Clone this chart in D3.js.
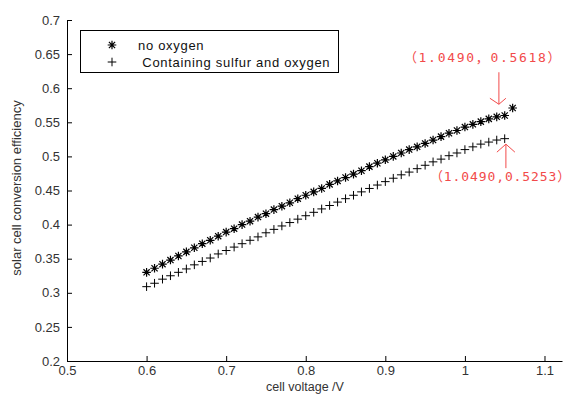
<!DOCTYPE html>
<html>
<head>
<meta charset="utf-8">
<script src="https://cdn.jsdelivr.net/npm/d3@7"></script>
<style>
  body { margin: 0; background: #fff; }
  svg { display: block; }
  .tick text { font-family: "Liberation Sans", Arial, sans-serif; font-size: 13px; fill: #333; }
</style>
</head>
<body>
<svg id="chart" width="574" height="394"></svg>
<script>
// cell voltage (V) and efficiencies
const voltageNoOxygen = [0.60, 0.61, 0.62, 0.63, 0.64, 0.65, 0.66, 0.67, 0.68, 0.69,
  0.70, 0.71, 0.72, 0.73, 0.74, 0.75, 0.76, 0.77, 0.78, 0.79,
  0.80, 0.81, 0.82, 0.83, 0.84, 0.85, 0.86, 0.87, 0.88, 0.89,
  0.90, 0.91, 0.92, 0.93, 0.94, 0.95, 0.96, 0.97, 0.98, 0.99,
  1.00, 1.01, 1.02, 1.03, 1.04, 1.05, 1.06];
const noOxygen = [0.330, 0.336, 0.342, 0.348, 0.354, 0.360, 0.366, 0.372, 0.377, 0.383,
  0.389, 0.394, 0.400, 0.405, 0.411, 0.416, 0.422, 0.427, 0.432, 0.438,
  0.443, 0.448, 0.453, 0.459, 0.464, 0.469, 0.474, 0.479, 0.485, 0.490,
  0.495, 0.500, 0.505, 0.510, 0.514, 0.519, 0.524, 0.529, 0.534, 0.538,
  0.543, 0.547, 0.551, 0.555, 0.558, 0.560, 0.571];

const voltageSulfur = [0.60, 0.61, 0.62, 0.63, 0.64, 0.65, 0.66, 0.67, 0.68, 0.69,
  0.70, 0.71, 0.72, 0.73, 0.74, 0.75, 0.76, 0.77, 0.78, 0.79,
  0.80, 0.81, 0.82, 0.83, 0.84, 0.85, 0.86, 0.87, 0.88, 0.89,
  0.90, 0.91, 0.92, 0.93, 0.94, 0.95, 0.96, 0.97, 0.98, 0.99,
  1.00, 1.01, 1.02, 1.03, 1.04, 1.05];
const sulfurOxygen = [0.309, 0.314, 0.320, 0.325, 0.330, 0.335, 0.341, 0.346, 0.351, 0.357,
  0.362, 0.367, 0.372, 0.377, 0.382, 0.388, 0.393, 0.398, 0.403, 0.408,
  0.413, 0.418, 0.423, 0.428, 0.433, 0.438, 0.443, 0.448, 0.453, 0.458,
  0.463, 0.468, 0.473, 0.477, 0.482, 0.487, 0.492, 0.496, 0.501, 0.505,
  0.510, 0.514, 0.518, 0.521, 0.524, 0.526];

const xTicks = [0.5, 0.6, 0.7, 0.8, 0.9, 1, 1.1];
const yTicks = [0.2, 0.25, 0.3, 0.35, 0.4, 0.45, 0.5, 0.55, 0.6, 0.65, 0.7];
const legendLabels = ['no oxygen', ' Containing sulfur and oxygen'];
const annotations = [
  { x: 1.049, y: 0.5618, text: '（1.0490，0.5618）', side: 'top' },
  { x: 1.049, y: 0.5253, text: '（1.0490,0.5253）', side: 'bottom' }
];

const svg = d3.select('#chart');
svg.append('rect').attr('width', 574).attr('height', 394).attr('fill', '#fff');

const x = d3.scaleLinear().domain([0.5, 1.122]).range([67, 562]);
const y = d3.scaleLinear().domain([0.2, 0.7]).range([361, 20]);

const fmt = d => String(+d.toFixed(2));

svg.append('g')
  .attr('transform', 'translate(0,361)')
  .call(d3.axisBottom(x).tickValues(xTicks).tickFormat(fmt)
    .tickSizeInner(-5).tickSizeOuter(0).tickPadding(5))
  .call(g => g.selectAll('path, line').attr('stroke', '#000'));

svg.append('g')
  .attr('transform', 'translate(67,0)')
  .call(d3.axisLeft(y).tickValues(yTicks).tickFormat(fmt)
    .tickSizeInner(-5).tickSizeOuter(0).tickPadding(7))
  .call(g => g.selectAll('path, line').attr('stroke', '#000'));

// axis titles
svg.append('text')
  .attr('x', 305).attr('y', 391)
  .attr('text-anchor', 'middle')
  .style('font-family', '"Liberation Sans", Arial, sans-serif')
  .style('font-size', '12.5px').style('fill', '#333')
  .text('cell voltage /V');

svg.append('text')
  .attr('transform', 'translate(21,188) rotate(-90)')
  .attr('text-anchor', 'middle')
  .style('font-family', '"Liberation Sans", Arial, sans-serif')
  .style('font-size', '13px').style('fill', '#333')
  .text('solar cell conversion efficiency');

// marker shapes
const starPath = r => {
  const d = r * 0.72;
  return `M${-r},0H${r}M0,${-r}V${r}M${-d},${-d}L${d},${d}M${-d},${d}L${d},${-d}`;
};
const plusPath = r => `M${-r},0H${r}M0,${-r}V${r}`;

const starData = voltageNoOxygen.map((v, i) => [v, noOxygen[i]]);
const plusData = voltageSulfur.map((v, i) => [v, sulfurOxygen[i]]);

svg.append('g')
  .selectAll('path')
  .data(starData)
  .join('path')
  .attr('transform', d => `translate(${x(d[0])},${y(d[1])})`)
  .attr('d', starPath(4.3))
  .attr('stroke', '#000')
  .attr('stroke-width', 1.2)
  .attr('fill', 'none');

svg.append('g')
  .selectAll('path')
  .data(plusData)
  .join('path')
  .attr('transform', d => `translate(${x(d[0])},${y(d[1])})`)
  .attr('d', plusPath(4.3))
  .attr('stroke', '#000')
  .attr('stroke-width', 1)
  .attr('fill', 'none');

// legend
const legend = svg.append('g');
legend.append('rect')
  .attr('x', 80.5).attr('y', 30.5).attr('width', 258).attr('height', 42)
  .attr('fill', '#fff').attr('stroke', '#000');

legendLabels.forEach((label, i) => {
  const ly = 45 + i * 17;
  legend.append('path')
    .attr('transform', `translate(112,${ly})`)
    .attr('d', i === 0 ? starPath(4.3) : plusPath(4.3))
    .attr('stroke', '#000').attr('stroke-width', i === 0 ? 1.2 : 1)
    .attr('fill', 'none');
  legend.append('text')
    .attr('x', 138).attr('y', ly + 4.5)
    .attr('xml:space', 'preserve')
    .style('font-family', '"Liberation Sans", Arial, sans-serif')
    .style('font-size', '13px').style('fill', '#111')
    .style('letter-spacing', '0.7px')
    .text(label);
});

// red annotations with arrows
const red = '#f24a4a';
annotations.forEach(a => {
  const px = x(a.x), py = y(a.y);
  const g = svg.append('g');
  if (a.side === 'top') {
    const tipX = px - 5, tipY = py - 10;
    g.append('path')
      .attr('d', `M${tipX},${tipY - 32}V${tipY}M${tipX - 9},${tipY - 6}L${tipX},${tipY}L${tipX + 7},${tipY - 6}`)
      .attr('stroke', red).attr('fill', 'none');
    g.append('text')
      .attr('x', px - 100).attr('y', tipY - 42)
      .style('font-family', '"DejaVu Sans Mono", "Noto Sans CJK SC", monospace')
      .style('font-size', '13px').style('fill', red)
      .style('letter-spacing', '1.7px')
      .text(a.text);
  } else {
    const tipX = px + 2, tipY = py + 5;
    g.append('path')
      .attr('d', `M${tipX},${tipY + 24}V${tipY}M${tipX - 9},${tipY + 8}L${tipX},${tipY}L${tipX + 9},${tipY + 8}`)
      .attr('stroke', red).attr('fill', 'none');
    g.append('text')
      .attr('x', px - 74).attr('y', tipY + 37)
      .style('font-family', '"DejaVu Sans Mono", "Noto Sans CJK SC", monospace')
      .style('font-size', '13px').style('fill', red)
      .style('letter-spacing', '0.9px')
      .text(a.text);
  }
});
</script>
</body>
</html>
